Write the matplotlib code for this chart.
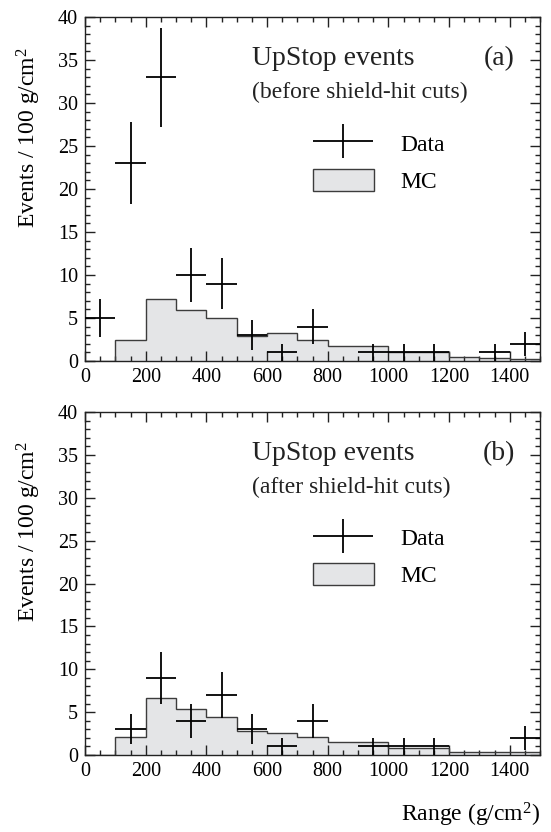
import numpy as np
import matplotlib
matplotlib.use("Agg")
import matplotlib.pyplot as plt
from matplotlib.patches import Patch
from matplotlib.ticker import MultipleLocator
from matplotlib.legend_handler import HandlerErrorbar

plt.rcParams["font.family"] = ["Liberation Serif", "DejaVu Serif"]
plt.rcParams["mathtext.fontset"] = "custom"
plt.rcParams["mathtext.rm"] = "Liberation Serif"
plt.rcParams["mathtext.it"] = "Liberation Serif:italic"

# bin edges in g/cm^2 (100 g/cm^2 bins)
bin_edges = np.arange(0, 1600, 100)
bin_centers = bin_edges[:-1] + 50

# counts per bin (0 = no data point drawn)
data_before = [5, 23, 33, 10, 9, 3, 1, 4, 0, 1, 1, 1, 0, 1, 2]
mc_before = [0, 2.5, 7.2, 5.9, 5.0, 2.9, 3.2, 2.4, 1.7, 1.7, 1.0, 1.0, 0.5, 0.3, 0.25]

data_after = [0, 3, 9, 4, 7, 3, 1, 4, 0, 1, 1, 1, 0, 0, 2]
mc_after = [0, 2.1, 6.7, 5.4, 4.4, 2.8, 2.6, 2.1, 1.5, 1.55, 0.8, 0.8, 0.4, 0.3, 0.3]

panels = [
    ("(a)", "(before shield-hit cuts)", data_before, mc_before),
    ("(b)", "(after shield-hit cuts)", data_after, mc_after),
]

mc_fill = "#e4e5e7"
mc_edge = "#3c3c3c"

fig = plt.figure(figsize=(5.51, 8.32), dpi=100)
ax_a = fig.add_axes([0.1543, 0.5661, 0.8258, 0.4135])
ax_b = fig.add_axes([0.1543, 0.0925, 0.8258, 0.4123])

for ax, (tag, sub, data, mc) in zip([ax_a, ax_b], panels):
    data = np.array(data, dtype=float)
    mc = np.array(mc, dtype=float)

    # MC histogram
    ax.stairs(mc, bin_edges, fill=True, color=mc_fill, zorder=1)
    ax.stairs(mc, bin_edges, color=mc_edge, lw=1.0, baseline=0, zorder=2)

    # data crosses (Poisson errors), empty bins not shown
    keep = data > 0
    eb = ax.errorbar(bin_centers[keep], data[keep], xerr=50, yerr=np.sqrt(data[keep]),
                     fmt="none", ecolor="black", elinewidth=1.3, capsize=0, zorder=3)

    ax.set_xlim(0, 1500)
    ax.set_ylim(0, 40)
    ax.xaxis.set_major_locator(MultipleLocator(200))
    ax.xaxis.set_minor_locator(MultipleLocator(50))
    ax.yaxis.set_major_locator(MultipleLocator(5))
    ax.yaxis.set_minor_locator(MultipleLocator(1))
    ax.tick_params(which="both", direction="in", top=True, right=True,
                   labelsize=14.5, width=1.0, color="#222222")
    ax.tick_params(which="major", length=7.2, pad=5)
    ax.tick_params(which="minor", length=3.8)
    for sp in ax.spines.values():
        sp.set_linewidth(1.0)
        sp.set_color("#222222")

    ax.set_ylabel("Events / 100 g/cm$^{2}$", fontsize=17)
    ax.yaxis.set_label_coords(-0.092, 0.65)

    ax.text(0.367, 0.860, "UpStop events", transform=ax.transAxes,
            fontsize=20, ha="left", va="baseline", color="#222222")
    ax.text(0.945, 0.860, tag, transform=ax.transAxes,
            fontsize=20, ha="right", va="baseline", color="#222222")
    ax.text(0.367, 0.763, sub, transform=ax.transAxes,
            fontsize=17, ha="left", va="baseline", color="#222222")

    mc_handle = Patch(facecolor=mc_fill, edgecolor=mc_edge, lw=1.0)
    ax.legend([eb, mc_handle], ["Data", "MC"], loc="center left",
              bbox_to_anchor=(0.501, 0.578), frameon=False, fontsize=17,
              numpoints=1, handlelength=2.58, handleheight=1.06,
              handletextpad=1.14, labelspacing=0.55, borderpad=0,
              borderaxespad=0,
              handler_map={type(eb): HandlerErrorbar(xerr_size=1.27, yerr_size=0.72)})

ax_b.set_xlabel("Range (g/cm$^{2}$)", fontsize=17)
ax_b.xaxis.set_label_coords(1.0, -0.133)
ax_b.xaxis.label.set_horizontalalignment("right")

fig.savefig("out.png", dpi=100)
